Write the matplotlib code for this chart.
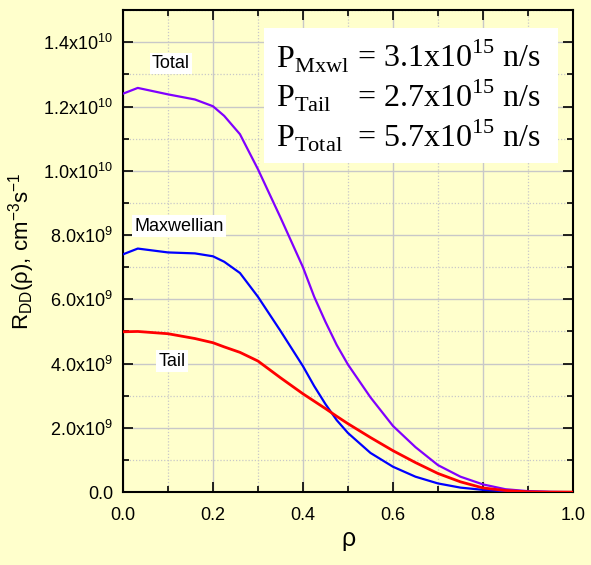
import matplotlib
matplotlib.use('Agg')
import matplotlib.pyplot as plt
from matplotlib.patches import Rectangle
from matplotlib.ticker import MultipleLocator, FixedLocator, FixedFormatter

plt.rcParams['mathtext.fontset'] = 'custom'
plt.rcParams['mathtext.rm'] = 'Liberation Serif'
plt.rcParams['mathtext.sf'] = 'Liberation Sans'

# radial profiles of DD reaction rate, units of 1e9 cm^-3 s^-1
rho = [0, 0.033, 0.1, 0.16, 0.2, 0.225, 0.26, 0.3, 0.35, 0.4, 0.425, 0.45, 0.475, 0.5,
       0.55, 0.6, 0.65, 0.7, 0.75, 0.8, 0.85, 0.9, 0.95, 1.0]
maxwellian = [7.40, 7.58, 7.46, 7.43, 7.34, 7.17, 6.82, 6.08, 5.02, 3.92, 3.30, 2.74, 2.24, 1.84,
              1.22, 0.79, 0.48, 0.27, 0.14, 0.07, 0.03, 0.01, 0.0, 0.0]
tail = [4.99, 5.00, 4.93, 4.78, 4.65, 4.52, 4.35, 4.08, 3.56, 3.06, 2.83, 2.60, 2.36, 2.13,
        1.70, 1.29, 0.92, 0.58, 0.32, 0.13, 0.05, 0.01, 0.0, 0.0]
total = [12.40, 12.58, 12.38, 12.22, 12.01, 11.71, 11.14, 10.05, 8.55, 7.00, 6.08, 5.30, 4.58, 3.97,
         2.95, 2.06, 1.40, 0.84, 0.48, 0.24, 0.09, 0.03, 0.01, 0.0]

ytick_vals = [0, 2e9, 4e9, 6e9, 8e9, 1e10, 1.2e10, 1.4e10]
ytick_labels = ['0.0', '2.0x10$^{\\mathsf{9}}$', '4.0x10$^{\\mathsf{9}}$', '6.0x10$^{\\mathsf{9}}$',
                '8.0x10$^{\\mathsf{9}}$', '1.0x10$^{\\mathsf{10}}$', '1.2x10$^{\\mathsf{10}}$',
                '1.4x10$^{\\mathsf{10}}$']
xtick_labels = ['0.0', '0.2', '0.4', '0.6', '0.8', '1.0']

bg = '#ffffcc'
sans = 'Liberation Sans'

fig = plt.figure(figsize=(5.91, 5.65), dpi=100, facecolor=bg)
ax = fig.add_axes([0.208, 0.129, 0.7615, 0.853], facecolor=bg)

scale = 1e9
ax.plot(rho, [v * scale for v in total], color='#8000ff', lw=1.6, zorder=3)
ax.plot(rho, [v * scale for v in maxwellian], color='#0000ff', lw=1.6, zorder=3)
ax.plot(rho, [v * scale for v in tail], color='#ff0000', lw=2.0, zorder=3)

ax.set_xlim(0, 1.0)
ax.set_ylim(0, 1.5e10)

ax.xaxis.set_major_locator(FixedLocator([0, 0.2, 0.4, 0.6, 0.8, 1.0]))
ax.xaxis.set_major_formatter(FixedFormatter(xtick_labels))
ax.xaxis.set_minor_locator(MultipleLocator(0.1))
ax.yaxis.set_major_locator(FixedLocator(ytick_vals))
ax.yaxis.set_major_formatter(FixedFormatter(ytick_labels))
ax.yaxis.set_minor_locator(MultipleLocator(1e9))

ax.grid(which='major', color='#c8c8c8', lw=1.0, ls='-', zorder=0)
ax.grid(which='minor', color='#c8c8c8', lw=0.9, ls=(0, (1, 1.5)), zorder=0)
ax.set_axisbelow(True)

ax.tick_params(which='both', direction='in', top=True, right=True, width=1.2, colors='black')
ax.tick_params(which='major', length=7)
ax.tick_params(which='minor', length=4)
ax.tick_params(axis='x', which='major', pad=11)
ax.tick_params(axis='y', which='major', pad=7)
for lab in ax.get_xticklabels() + ax.get_yticklabels():
    lab.set_family(sans)
    lab.set_fontsize(13)
for s in ax.spines.values():
    s.set_linewidth(1.5)

ax.set_xlabel('\u03c1', family=sans, fontsize=18, labelpad=2)
ax.set_ylabel('R$_{\\mathsf{DD}}$(\u03c1), cm$^{\\mathsf{-3}}$s$^{\\mathsf{-1}}$',
              family=sans, fontsize=16)
ax.yaxis.set_label_coords(-0.19, 0.5)

# curve labels
box = dict(facecolor='white', edgecolor='none', pad=1.5)
ax.text(0.107, 1.335e10, 'Total', family=sans, fontsize=13, ha='center', va='center', bbox=box)
ax.text(0.124, 0.828e10, 'Maxwellian', family=sans, fontsize=13, ha='center', va='center', bbox=box)
ax.text(0.109, 0.408e10, 'Tail', family=sans, fontsize=13, ha='center', va='center', bbox=box)

# neutron production box
ax.add_patch(Rectangle((0.447, 0.7115), 0.497, 0.239, transform=fig.transFigure,
                       facecolor='white', edgecolor='none', zorder=5))
lines = [('P$_{\\mathrm{Mxwl}}$', '= 3.1x10$^{\\mathrm{15}}$ n/s', 0.881),
         ('P$_{\\mathrm{Tail}}$', '= 2.7x10$^{\\mathrm{15}}$ n/s', 0.811),
         ('P$_{\\mathrm{Total}}$', '= 5.7x10$^{\\mathrm{15}}$ n/s', 0.740)]
for p, val, yb in lines:
    fig.text(0.467, yb, p, family='Liberation Serif', fontsize=23, va='baseline', zorder=6)
    fig.text(0.604, yb, val, family='Liberation Serif', fontsize=23, va='baseline', zorder=6)

fig.savefig('out.png', dpi=100, facecolor=bg)
